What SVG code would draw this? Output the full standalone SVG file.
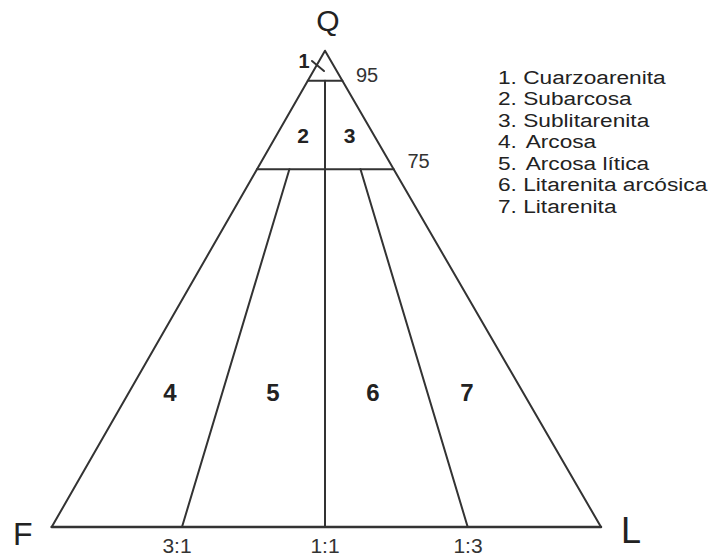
<svg xmlns="http://www.w3.org/2000/svg" width="715" height="557" viewBox="0 0 715 557">
<style>
.ln{stroke:#333;stroke-width:2;fill:none;stroke-linecap:round;stroke-linejoin:round}
.base{stroke:#333;stroke-width:2.5;fill:none;stroke-linecap:round}
.vtx{font-family:"Liberation Sans",Arial,sans-serif;fill:#222}
.num{font-family:"Liberation Sans",Arial,sans-serif;font-weight:bold;fill:#222;text-anchor:middle}
.pct{font-family:"Liberation Sans",Arial,sans-serif;fill:#333;font-size:20px}
.rat{font-family:"Liberation Sans",Arial,sans-serif;fill:#333;font-size:21px;text-anchor:middle}
.leg{font-family:"Liberation Sans",Arial,sans-serif;fill:#222;font-size:18.6px}
</style>
<rect width="715" height="557" fill="#fff"/>
<g id="connectors">
<polyline class="ln" points="51.7,527 325,50.7 601,527"/>
<line class="base" x1="51.7" y1="527" x2="601" y2="527"/>
<line class="ln" x1="307.8" y1="80.7" x2="342.4" y2="80.7"/>
<line class="ln" x1="256.9" y1="169.3" x2="393.7" y2="169.3"/>
<line class="ln" x1="325" y1="80.7" x2="325" y2="527"/>
<line class="ln" x1="289.4" y1="169.3" x2="182" y2="527"/>
<line class="ln" x1="360.5" y1="169.3" x2="467.7" y2="527"/>
<line class="ln" x1="312" y1="61" x2="324" y2="71"/>
</g>
<g id="vertex-Q"><text class="vtx" x="328" y="31" font-size="30" text-anchor="middle">Q</text></g>
<g id="vertex-F"><text class="vtx" x="13" y="545" font-size="32">F</text></g>
<g id="vertex-L"><text class="vtx" x="621" y="543" font-size="36">L</text></g>
<g id="pct-95"><text class="pct" x="356" y="81.7">95</text></g>
<g id="pct-75"><text class="pct" x="407.5" y="168.3">75</text></g>
<g id="ratio-3-1"><text class="rat" x="177" y="552.7">3:1</text></g>
<g id="ratio-1-1"><text class="rat" x="325" y="552.7">1:1</text></g>
<g id="ratio-1-3"><text class="rat" x="468" y="552.7">1:3</text></g>
<g id="field-1"><text class="num" x="304" y="68.3" font-size="20">1</text></g>
<g id="field-2"><text class="num" x="303" y="143.3" font-size="21">2</text></g>
<g id="field-3"><text class="num" x="349.7" y="143.3" font-size="21">3</text></g>
<g id="field-4"><text class="num" x="170" y="401" font-size="24">4</text></g>
<g id="field-5"><text class="num" x="273" y="401" font-size="24">5</text></g>
<g id="field-6"><text class="num" x="373" y="401" font-size="24">6</text></g>
<g id="field-7"><text class="num" x="467" y="401" font-size="24">7</text></g>
<g id="legend" transform="translate(498,0) scale(1.22,1)">
<text class="leg" x="0" y="84">1. Cuarzoarenita</text>
<text class="leg" x="0" y="105.5">2. Subarcosa</text>
<text class="leg" x="0" y="127">3. Sublitarenita</text>
<text class="leg" x="0" y="148.5">4. <tspan dx="2">Arcosa</tspan></text>
<text class="leg" x="0" y="170">5. <tspan dx="2">Arcosa lítica</tspan></text>
<text class="leg" x="0" y="191.5">6. Litarenita arcósica</text>
<text class="leg" x="0" y="213">7. Litarenita</text>
</g>
</svg>
